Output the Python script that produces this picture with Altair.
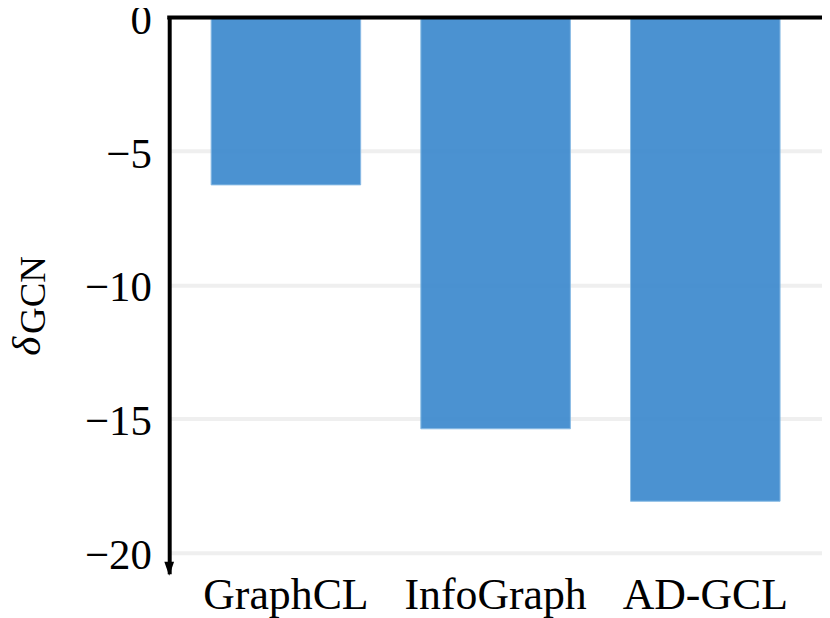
import altair as alt
import pandas as pd

methods = ["GraphCL", "InfoGraph", "AD-GCL"]
delta_gcn = [-6.26, -15.38, -18.09]
y_ticks = [0, -5, -10, -15, -20]

df = pd.DataFrame({"method": methods, "delta": delta_gcn})

FONT = "Liberation Serif"
W, H = 656, 559

base = alt.Chart(df)

bars = base.mark_bar(
    color="#3e8ace", opacity=0.93, stroke="#7fb5e3", strokeWidth=1
).encode(
    x=alt.X(
        "method:N",
        sort=methods,
        scale=alt.Scale(paddingInner=0.287, paddingOuter=0.2),
        axis=alt.Axis(
            title=None, labelAngle=0, labelFont=FONT, labelFontSize=44,
            labelColor="black", domain=False, ticks=False, labelLimit=0,
            labelBaseline="alphabetic", labelPadding=35,
        ),
    ),
    y=alt.Y(
        "delta:Q",
        scale=alt.Scale(domain=[-20.8, 0], nice=False),
        axis=alt.Axis(
            title=None, values=y_ticks, labelFont=FONT, labelFontSize=43,
            labelColor="black", ticks=False, labelPadding=18, labelOffset=3,
            domainColor="black", domainWidth=4,
            grid=True, gridColor="#efefef", gridWidth=4,
        ),
    ),
)

top_line = alt.Chart(pd.DataFrame({"v": [0]})).mark_rule(
    color="black", strokeWidth=4
).encode(y="v:Q", x=alt.value(-2), x2=alt.value(W + 10))

arrow = alt.Chart(pd.DataFrame({"v": [0]})).mark_point(
    shape="M-0.7,-1L0.7,-1L0,1Z", filled=True, color="black",
    opacity=1, size=196, strokeWidth=0,
).encode(x=alt.value(0), y=alt.value(H - 5))

title_delta = alt.Chart(pd.DataFrame({"t": ["δ"]})).mark_text(
    font=FONT, fontSize=41, fontStyle="italic", angle=270,
    align="left", baseline="alphabetic", color="black",
).encode(text="t:N", x=alt.value(-130), y=alt.value(340))

title_sub = alt.Chart(pd.DataFrame({"t": ["GCN"]})).mark_text(
    font=FONT, fontSize=37, angle=270,
    align="left", baseline="alphabetic", color="black",
).encode(text="t:N", x=alt.value(-125), y=alt.value(318))

chart = alt.layer(bars, top_line, arrow, title_delta, title_sub).properties(
    width=W, height=H,
    autosize=alt.AutoSizeParams(type="none"),
    padding={"left": 162, "top": 8, "right": 0, "bottom": 50},
).configure_view(stroke=None)

chart.save("out.html", embed_options={"renderer": "svg", "actions": False})
